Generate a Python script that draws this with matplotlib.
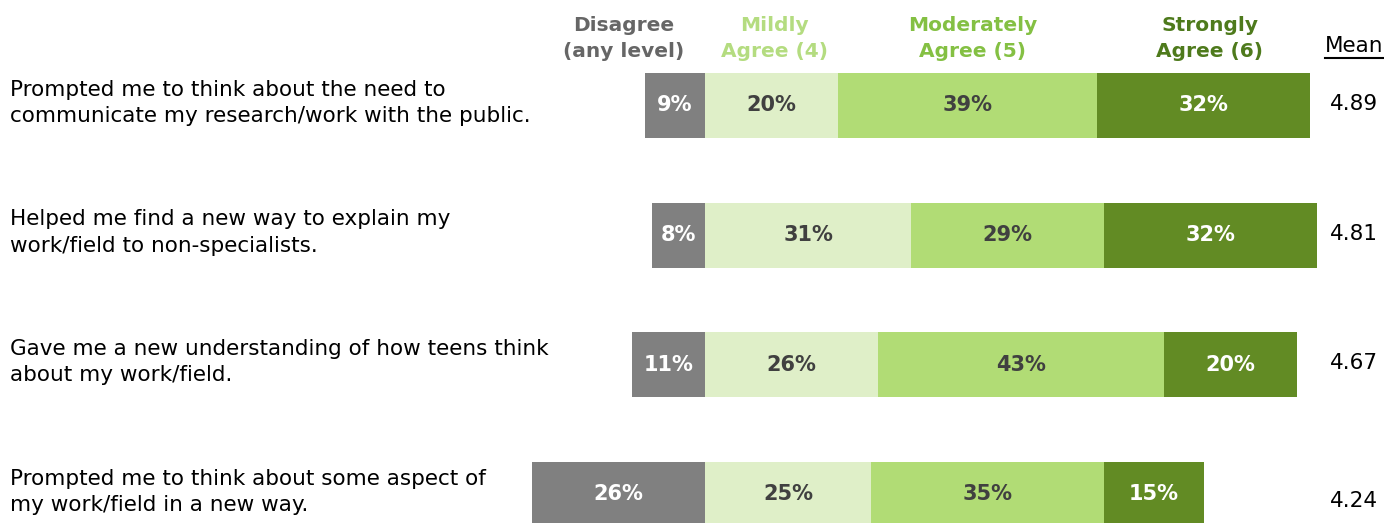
import matplotlib
matplotlib.use("Agg")
import matplotlib.pyplot as plt

plt.rcParams['font.family'] = ['DejaVu Sans']

# Survey items and response shares (%)
items = [
    "Prompted me to think about the need to\ncommunicate my research/work with the public.",
    "Helped me find a new way to explain my\nwork/field to non-specialists.",
    "Gave me a new understanding of how teens think\nabout my work/field.",
    "Prompted me to think about some aspect of\nmy work/field in a new way.",
]
disagree = [9, 8, 11, 26]
mildly = [20, 31, 26, 25]
moderately = [39, 29, 43, 35]
strongly = [32, 32, 20, 15]
means = ["4.89", "4.81", "4.67", "4.24"]

headers = ["Disagree\n(any level)", "Mildly\nAgree (4)", "Moderately\nAgree (5)", "Strongly\nAgree (6)"]

c_dis = "#808080"
c_mild = "#dfefc8"
c_mod = "#b1dc75"
c_str = "#628b24"
head_colors = ["#666666", "#b4dc80", "#84c043", "#4e7a1c"]

fig = plt.figure(figsize=(13.84, 5.23), dpi=100)
ax = fig.add_axes([0, 0, 1, 1])
ax.set_xlim(-106.0, 102.1)
ax.set_ylim(3.22, -0.813)
ax.axis("off")

ypos = range(len(items))
h = 0.5
ax.barh(ypos, [-d for d in disagree], height=h, color=c_dis)
ax.barh(ypos, mildly, height=h, color=c_mild)
left2 = mildly
ax.barh(ypos, moderately, left=left2, height=h, color=c_mod)
left3 = [a + b for a, b in zip(mildly, moderately)]
ax.barh(ypos, strongly, left=left3, height=h, color=c_str)

fs = 15
for i in ypos:
    ax.text(-disagree[i] / 2, i, f"{disagree[i]}%", ha="center", va="center",
            color="white", fontsize=fs, fontweight="bold")
    ax.text(mildly[i] / 2, i, f"{mildly[i]}%", ha="center", va="center",
            color="#404040", fontsize=fs, fontweight="bold")
    ax.text(mildly[i] + moderately[i] / 2, i, f"{moderately[i]}%", ha="center",
            va="center", color="#404040", fontsize=fs, fontweight="bold")
    ax.text(left3[i] + strongly[i] / 2, i, f"{strongly[i]}%", ha="center",
            va="center", color="white", fontsize=fs, fontweight="bold")
    ax.text(0.007, i - 0.02, items[i], transform=ax.get_yaxis_transform(),
            ha="left", va="center", fontsize=15.5, color="black", linespacing=1.4)
    ax.text(97.6, i - 0.01 + (0.06 if i == 3 else 0), means[i], ha="center",
            va="center", fontsize=15.5, color="black")

# column headers above the first bar
head_x = [-12.2, 10.5, 40.2, 75.9]
for x, t, c in zip(head_x, headers, head_colors):
    ax.text(x, -0.516, t, ha="center", va="center", fontsize=14.5,
            fontweight="bold", color=c, linespacing=1.45)

mean_txt = ax.text(97.6, -0.46, "Mean", ha="center", va="center",
                   fontsize=15.5, color="black")
fig.canvas.draw()
bb = mean_txt.get_window_extent().transformed(ax.transData.inverted())
ax.plot([bb.x0, bb.x1], [bb.y0 + 0.02, bb.y0 + 0.02], color="black", lw=1.5)

fig.savefig("out.png", dpi=100)
